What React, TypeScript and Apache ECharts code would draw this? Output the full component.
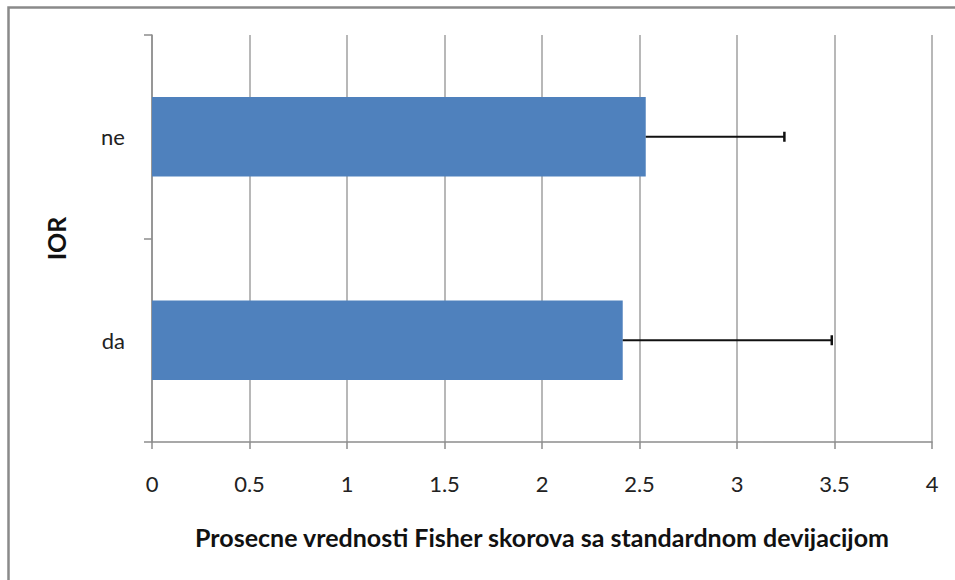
import React, { useEffect, useRef } from "react";
import * as echarts from "echarts";

const categories = ["da", "ne"];
const means = [2.414, 2.532];
const stdDevs = [1.072, 0.711];
const xTicks = { min: 0, max: 4, interval: 0.5 };
const xTitle = "Prosecne vrednosti Fisher skorova sa standardnom devijacijom";
const yTitle = "IOR";

export default function App() {
  const ref = useRef<HTMLDivElement>(null);
  useEffect(() => {
    const el = ref.current!;
    const chart = echarts.init(el, null, { renderer: "svg" });
    const font = "Lato, 'Noto Sans', sans-serif";
    const errData = categories.map((c, i) => [means[i], i, means[i] + stdDevs[i]]);
    chart.setOption({
      animation: false,
      backgroundColor: "#ffffff",
      textStyle: { fontFamily: font },
      graphic: [
        {
          type: "rect",
          shape: { x: 8.5, y: 7.5, width: 1200, height: 1200 },
          style: { fill: "none", stroke: "#8a8a8a", lineWidth: 2.5 },
          silent: true,
        },
      ],
      grid: { left: 152, top: 35, width: 780, height: 407 },
      xAxis: {
        type: "value",
        min: xTicks.min,
        max: xTicks.max,
        interval: xTicks.interval,
        name: xTitle,
        nameLocation: "middle",
        nameGap: 82,
        nameTextStyle: { fontFamily: font, fontSize: 25, fontWeight: "bold", color: "#111" },
        axisLine: { show: true, lineStyle: { color: "#8c8c8c", width: 1.5 } },
        axisTick: { show: true, length: 7, lineStyle: { color: "#8c8c8c", width: 1.5 } },
        axisLabel: { fontFamily: font, fontSize: 22, color: "#222", margin: 30 },
        splitLine: { show: true, lineStyle: { color: "#a0a0a0", width: 1.5 } },
      },
      yAxis: {
        type: "category",
        data: categories,
        name: yTitle,
        nameLocation: "middle",
        nameGap: 84,
        nameTextStyle: { fontFamily: font, fontSize: 25, fontWeight: "bold", color: "#111" },
        axisLine: { show: true, lineStyle: { color: "#8c8c8c", width: 1.5 } },
        axisTick: { show: true, length: 8, lineStyle: { color: "#8c8c8c", width: 1.5 } },
        axisLabel: { fontFamily: font, fontSize: 22, color: "#222", margin: 27 },
        splitLine: { show: false },
      },
      series: [
        {
          type: "bar",
          data: means,
          barWidth: "39%",
          itemStyle: { color: "#4F81BD" },
        },
        {
          type: "custom",
          data: errData,
          encode: { x: [0, 2], y: 1 },
          z: 10,
          renderItem: (params: any, api: any) => {
            const y = api.value(1);
            const p0 = api.coord([api.value(0), y]);
            const p1 = api.coord([api.value(2), y]);
            const cap = 5;
            return {
              type: "group",
              children: [
                {
                  type: "line",
                  shape: { x1: p0[0], y1: p0[1], x2: p1[0], y2: p1[1] },
                  style: { stroke: "#111", lineWidth: 2 },
                },
                {
                  type: "line",
                  shape: { x1: p1[0], y1: p1[1] - cap, x2: p1[0], y2: p1[1] + cap },
                  style: { stroke: "#111", lineWidth: 2.5 },
                },
              ],
            };
          },
        },
      ],
    });
    return () => chart.dispose();
  }, []);
  return (
    <div
      ref={ref}
      style={{ position: "absolute", left: 0, top: 0, width: 955, height: 580 }}
    />
  );
}
